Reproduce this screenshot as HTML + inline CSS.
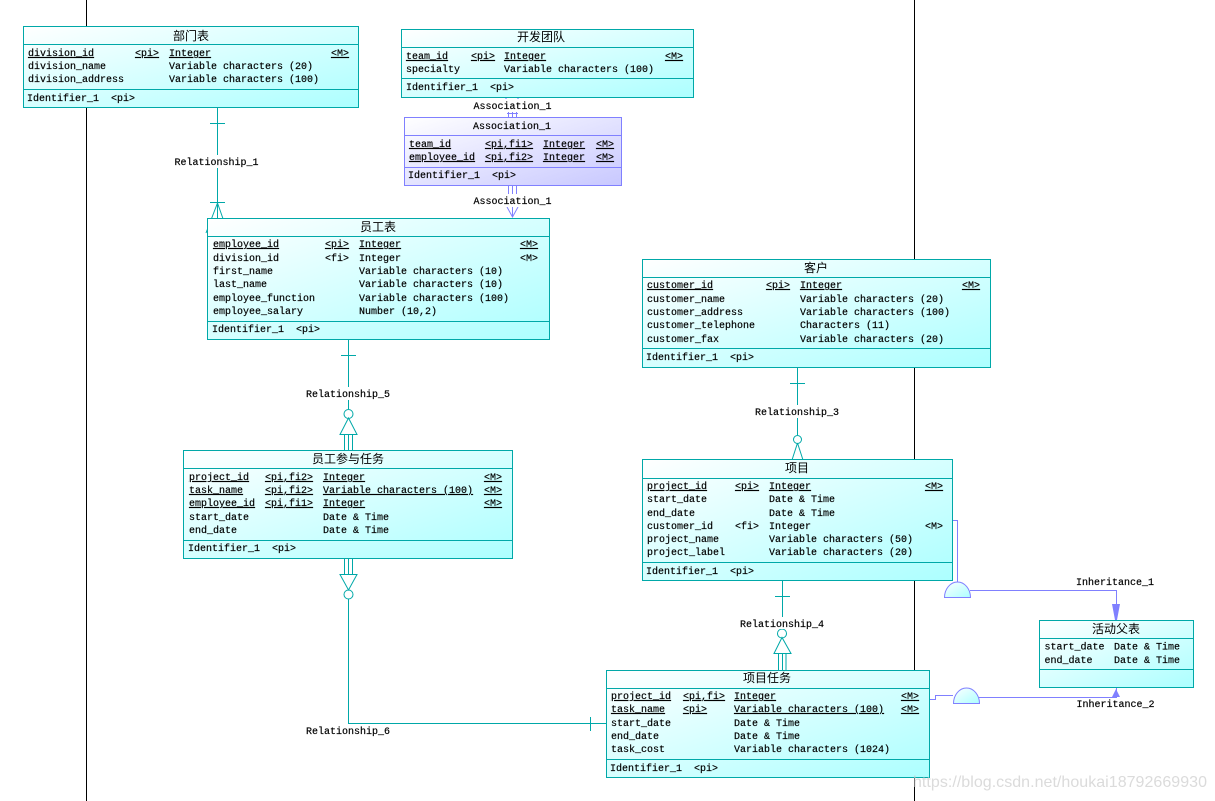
<!DOCTYPE html>
<html><head><meta charset="utf-8"><style>
html,body{margin:0;padding:0;background:#fff;width:1215px;height:801px;overflow:hidden}
svg{display:block}
text{font-family:"Liberation Mono","Noto Sans CJK SC",monospace;font-size:10px;fill:#000;white-space:pre;transform:translateY(-1px);stroke:#000;stroke-width:.18px}
.t{font-family:"Liberation Mono","Noto Sans CJK SC",sans-serif;font-size:12px;text-anchor:middle;transform:none;stroke:none}
.m{text-anchor:middle}
.u{text-decoration:underline}
.w{font-family:"Liberation Sans",sans-serif;font-size:16px;fill:#c8c8c8;fill-opacity:.65;stroke:none}
.b{stroke:#00a8a8;stroke-width:1;fill:url(#g)}
.p{stroke:#8080ff;stroke-width:1;fill:url(#h)}
.l{stroke:#00a8a8;stroke-width:1;fill:none}
.v{stroke:#8080ff;stroke-width:1;fill:none}
</style></head><body>
<svg width="1215" height="801" viewBox="0 0 1215 801" xmlns="http://www.w3.org/2000/svg">
<defs>
<linearGradient id="g" x1="0" y1="0" x2="1" y2="1"><stop offset="0" stop-color="#fff"/><stop offset="1" stop-color="#acffff"/></linearGradient>
<linearGradient id="h" x1="0" y1="0" x2="1" y2="1"><stop offset="0" stop-color="#fff"/><stop offset="1" stop-color="#c8c8ff"/></linearGradient>
</defs>
<path d="M86.5 0V801M914.5 0V801" stroke="#000" stroke-width="1" fill="none"/>

<!-- connectors -->
<path class="l" d="M217.5 107V218M210 123.5H225M210 202.5H225M217.5 203L206 233M217.5 203L228 233"/>
<path class="l" d="M348.5 339V409M341 355.5H356M344.5 434V451M348.5 434V451M352.5 434V451"/>
<circle class="l" cx="348.5" cy="414" r="4.5"/>
<path class="l" d="M348.5 418L340 434.5H357Z"/>
<path class="l" d="M344.5 558V575M348.5 558V575M352.5 558V575M340 574.5H357L348.5 590ZM348.5 599V723.5H606M590.5 717V731"/>
<circle class="l" cx="348.5" cy="594.5" r="4.5"/>
<path class="l" d="M797.5 367V435M790 383.5H805M797.5 443L792 460M797.5 443L803 460"/>
<circle class="l" cx="797.5" cy="439.5" r="4"/>
<path class="l" d="M782.5 580V629M775 596.5H790M778.5 653V670M782.5 653V670M786 653V670"/>
<circle class="l" cx="782" cy="633.5" r="4.5"/>
<path class="l" d="M782 637.5L774 653.5H791Z"/>
<path class="v" d="M505 97L507 100M519 97L517 100M508.5 100V117M512.5 100V117M516.5 100V117M507 113.5H518"/>
<path class="v" d="M508.5 185V206M512.5 185V216M516.5 185V206M507 207L512.5 217L518 207"/>
<path class="v" d="M953 520.5H957.5V582M970 590.5H1116.5V620M930 699.5H935.5V695.5H953M979 697.5H1116.5V688"/>
<path d="M1112 604H1120L1117 620H1115Z" fill="#8080ff"/>
<path d="M1116 689L1120 697H1112Z" fill="#8080ff"/>
<path class="p" style="fill:url(#g)" d="M944.5 597.5A13 15.5 0 0 1 970.5 597.5Z"/>
<path class="p" style="fill:url(#g)" d="M953.5 703.5A13 15.5 0 0 1 979.5 703.5Z"/>

<!-- connector labels -->
<rect x="175" y="155" width="84" height="13" fill="#fff"/><text x="216.5" y="166" class="m">Relationship_1</text>
<rect x="306" y="387" width="84" height="13" fill="#fff"/><text x="348" y="398" class="m">Relationship_5</text>
<rect x="755" y="405" width="84" height="13" fill="#fff"/><text x="797" y="416" class="m">Relationship_3</text>
<rect x="740" y="617" width="84" height="12" fill="#fff"/><text x="782" y="628" class="m">Relationship_4</text>
<text x="348" y="735" class="m">Relationship_6</text>
<rect x="474" y="99" width="78" height="13" fill="#fff"/><text x="512.5" y="110" class="m">Association_1</text>
<rect x="474" y="194" width="78" height="13" fill="#fff"/><text x="512.5" y="205" class="m">Association_1</text>
<text x="1115" y="586" class="m">Inheritance_1</text>
<text x="1115.5" y="708" class="m">Inheritance_2</text>

<!-- 部门表 -->
<rect class="b" x="23.5" y="26.5" width="335" height="81"/>
<path class="l" d="M23.5 44.5H358.5M23.5 89.5H358.5"/>
<text class="t" x="191" y="40">部门表</text>
<text x="28" y="57" class="u">division_id</text><text x="135" y="57" class="u">&lt;pi&gt;</text><text x="169" y="57" class="u">Integer</text><text x="331" y="57" class="u">&lt;M&gt;</text>
<text x="28" y="70">division_name</text><text x="169" y="70">Variable characters (20)</text>
<text x="28" y="83">division_address</text><text x="169" y="83">Variable characters (100)</text>
<text x="27" y="102">Identifier_1  &lt;pi&gt;</text>

<!-- 开发团队 -->
<rect class="b" x="401.5" y="29.5" width="292" height="68"/>
<path class="l" d="M401.5 47.5H693.5M401.5 78.5H693.5"/>
<text class="t" x="541" y="41">开发团队</text>
<text x="406" y="60" class="u">team_id</text><text x="471" y="60" class="u">&lt;pi&gt;</text><text x="504" y="60" class="u">Integer</text><text x="665" y="60" class="u">&lt;M&gt;</text>
<text x="406" y="73">specialty</text><text x="504" y="73">Variable characters (100)</text>
<text x="406" y="91">Identifier_1  &lt;pi&gt;</text>

<!-- Association_1 -->
<rect class="p" x="404.5" y="117.5" width="217" height="68"/>
<path class="v" d="M404.5 135.5H621.5M404.5 167.5H621.5"/>
<text x="512" y="130" class="m">Association_1</text>
<text x="409" y="148" class="u">team_id</text><text x="485" y="148" class="u">&lt;pi,fi1&gt;</text><text x="543" y="148" class="u">Integer</text><text x="596" y="148" class="u">&lt;M&gt;</text>
<text x="409" y="161" class="u">employee_id</text><text x="485" y="161" class="u">&lt;pi,fi2&gt;</text><text x="543" y="161" class="u">Integer</text><text x="596" y="161" class="u">&lt;M&gt;</text>
<text x="408" y="179">Identifier_1  &lt;pi&gt;</text>

<!-- 员工表 -->
<rect class="b" x="207.5" y="218.5" width="342" height="121"/>
<path class="l" d="M207.5 236.5H549.5M207.5 321.5H549.5"/>
<text class="t" x="378" y="231">员工表</text>
<text x="213" y="248" class="u">employee_id</text><text x="325" y="248" class="u">&lt;pi&gt;</text><text x="359" y="248" class="u">Integer</text><text x="520" y="248" class="u">&lt;M&gt;</text>
<text x="213" y="262">division_id</text><text x="325" y="262">&lt;fi&gt;</text><text x="359" y="262">Integer</text><text x="520" y="262">&lt;M&gt;</text>
<text x="213" y="275">first_name</text><text x="359" y="275">Variable characters (10)</text>
<text x="213" y="288">last_name</text><text x="359" y="288">Variable characters (10)</text>
<text x="213" y="302">employee_function</text><text x="359" y="302">Variable characters (100)</text>
<text x="213" y="315">employee_salary</text><text x="359" y="315">Number (10,2)</text>
<text x="212" y="333">Identifier_1  &lt;pi&gt;</text>

<!-- 员工参与任务 -->
<rect class="b" x="183.5" y="450.5" width="329" height="108"/>
<path class="l" d="M183.5 468.5H512.5M183.5 540.5H512.5"/>
<text class="t" x="348" y="463">员工参与任务</text>
<text x="189" y="481" class="u">project_id</text><text x="265" y="481" class="u">&lt;pi,fi2&gt;</text><text x="323" y="481" class="u">Integer</text><text x="484" y="481" class="u">&lt;M&gt;</text>
<text x="189" y="494" class="u">task_name</text><text x="265" y="494" class="u">&lt;pi,fi2&gt;</text><text x="323" y="494" class="u">Variable characters (100)</text><text x="484" y="494" class="u">&lt;M&gt;</text>
<text x="189" y="507" class="u">employee_id</text><text x="265" y="507" class="u">&lt;pi,fi1&gt;</text><text x="323" y="507" class="u">Integer</text><text x="484" y="507" class="u">&lt;M&gt;</text>
<text x="189" y="521">start_date</text><text x="323" y="521">Date &amp; Time</text>
<text x="189" y="534">end_date</text><text x="323" y="534">Date &amp; Time</text>
<text x="188" y="552">Identifier_1  &lt;pi&gt;</text>

<!-- 客户 -->
<rect class="b" x="642.5" y="259.5" width="348" height="108"/>
<path class="l" d="M642.5 277.5H990.5M642.5 348.5H990.5"/>
<text class="t" x="816" y="272">客户</text>
<text x="647" y="289" class="u">customer_id</text><text x="766" y="289" class="u">&lt;pi&gt;</text><text x="800" y="289" class="u">Integer</text><text x="962" y="289" class="u">&lt;M&gt;</text>
<text x="647" y="303">customer_name</text><text x="800" y="303">Variable characters (20)</text>
<text x="647" y="316">customer_address</text><text x="800" y="316">Variable characters (100)</text>
<text x="647" y="329">customer_telephone</text><text x="800" y="329">Characters (11)</text>
<text x="647" y="343">customer_fax</text><text x="800" y="343">Variable characters (20)</text>
<text x="646" y="361">Identifier_1  &lt;pi&gt;</text>

<!-- 项目 -->
<rect class="b" x="642.5" y="459.5" width="310" height="121"/>
<path class="l" d="M642.5 478.5H952.5M642.5 562.5H952.5"/>
<text class="t" x="797" y="472">项目</text>
<text x="647" y="490" class="u">project_id</text><text x="735" y="490" class="u">&lt;pi&gt;</text><text x="769" y="490" class="u">Integer</text><text x="925" y="490" class="u">&lt;M&gt;</text>
<text x="647" y="503">start_date</text><text x="769" y="503">Date &amp; Time</text>
<text x="647" y="517">end_date</text><text x="769" y="517">Date &amp; Time</text>
<text x="647" y="530">customer_id</text><text x="735" y="530">&lt;fi&gt;</text><text x="769" y="530">Integer</text><text x="925" y="530">&lt;M&gt;</text>
<text x="647" y="543">project_name</text><text x="769" y="543">Variable characters (50)</text>
<text x="647" y="556">project_label</text><text x="769" y="556">Variable characters (20)</text>
<text x="646" y="575">Identifier_1  &lt;pi&gt;</text>

<!-- 项目任务 -->
<rect class="b" x="606.5" y="670.5" width="323" height="107"/>
<path class="l" d="M606.5 688.5H929.5M606.5 759.5H929.5"/>
<text class="t" x="767" y="682">项目任务</text>
<text x="611" y="700" class="u">project_id</text><text x="683" y="700" class="u">&lt;pi,fi&gt;</text><text x="734" y="700" class="u">Integer</text><text x="901" y="700" class="u">&lt;M&gt;</text>
<text x="611" y="713" class="u">task_name</text><text x="683" y="713" class="u">&lt;pi&gt;</text><text x="734" y="713" class="u">Variable characters (100)</text><text x="901" y="713" class="u">&lt;M&gt;</text>
<text x="611" y="727">start_date</text><text x="734" y="727">Date &amp; Time</text>
<text x="611" y="740">end_date</text><text x="734" y="740">Date &amp; Time</text>
<text x="611" y="753">task_cost</text><text x="734" y="753">Variable characters (1024)</text>
<text x="610" y="772">Identifier_1  &lt;pi&gt;</text>

<!-- 活动父表 -->
<rect class="b" x="1039.5" y="620.5" width="154" height="67"/>
<path class="l" d="M1039.5 638.5H1193.5M1039.5 669.5H1193.5"/>
<text class="t" x="1116" y="633">活动父表</text>
<text x="1044.5" y="650.5">start_date</text><text x="1114" y="650.5">Date &amp; Time</text>
<text x="1044.5" y="664">end_date</text><text x="1114" y="664">Date &amp; Time</text>

<!-- watermark -->
<text class="w" x="913" y="788" textLength="294">https://blog.csdn.net/houkai18792669930</text>
</svg>
</body></html>
